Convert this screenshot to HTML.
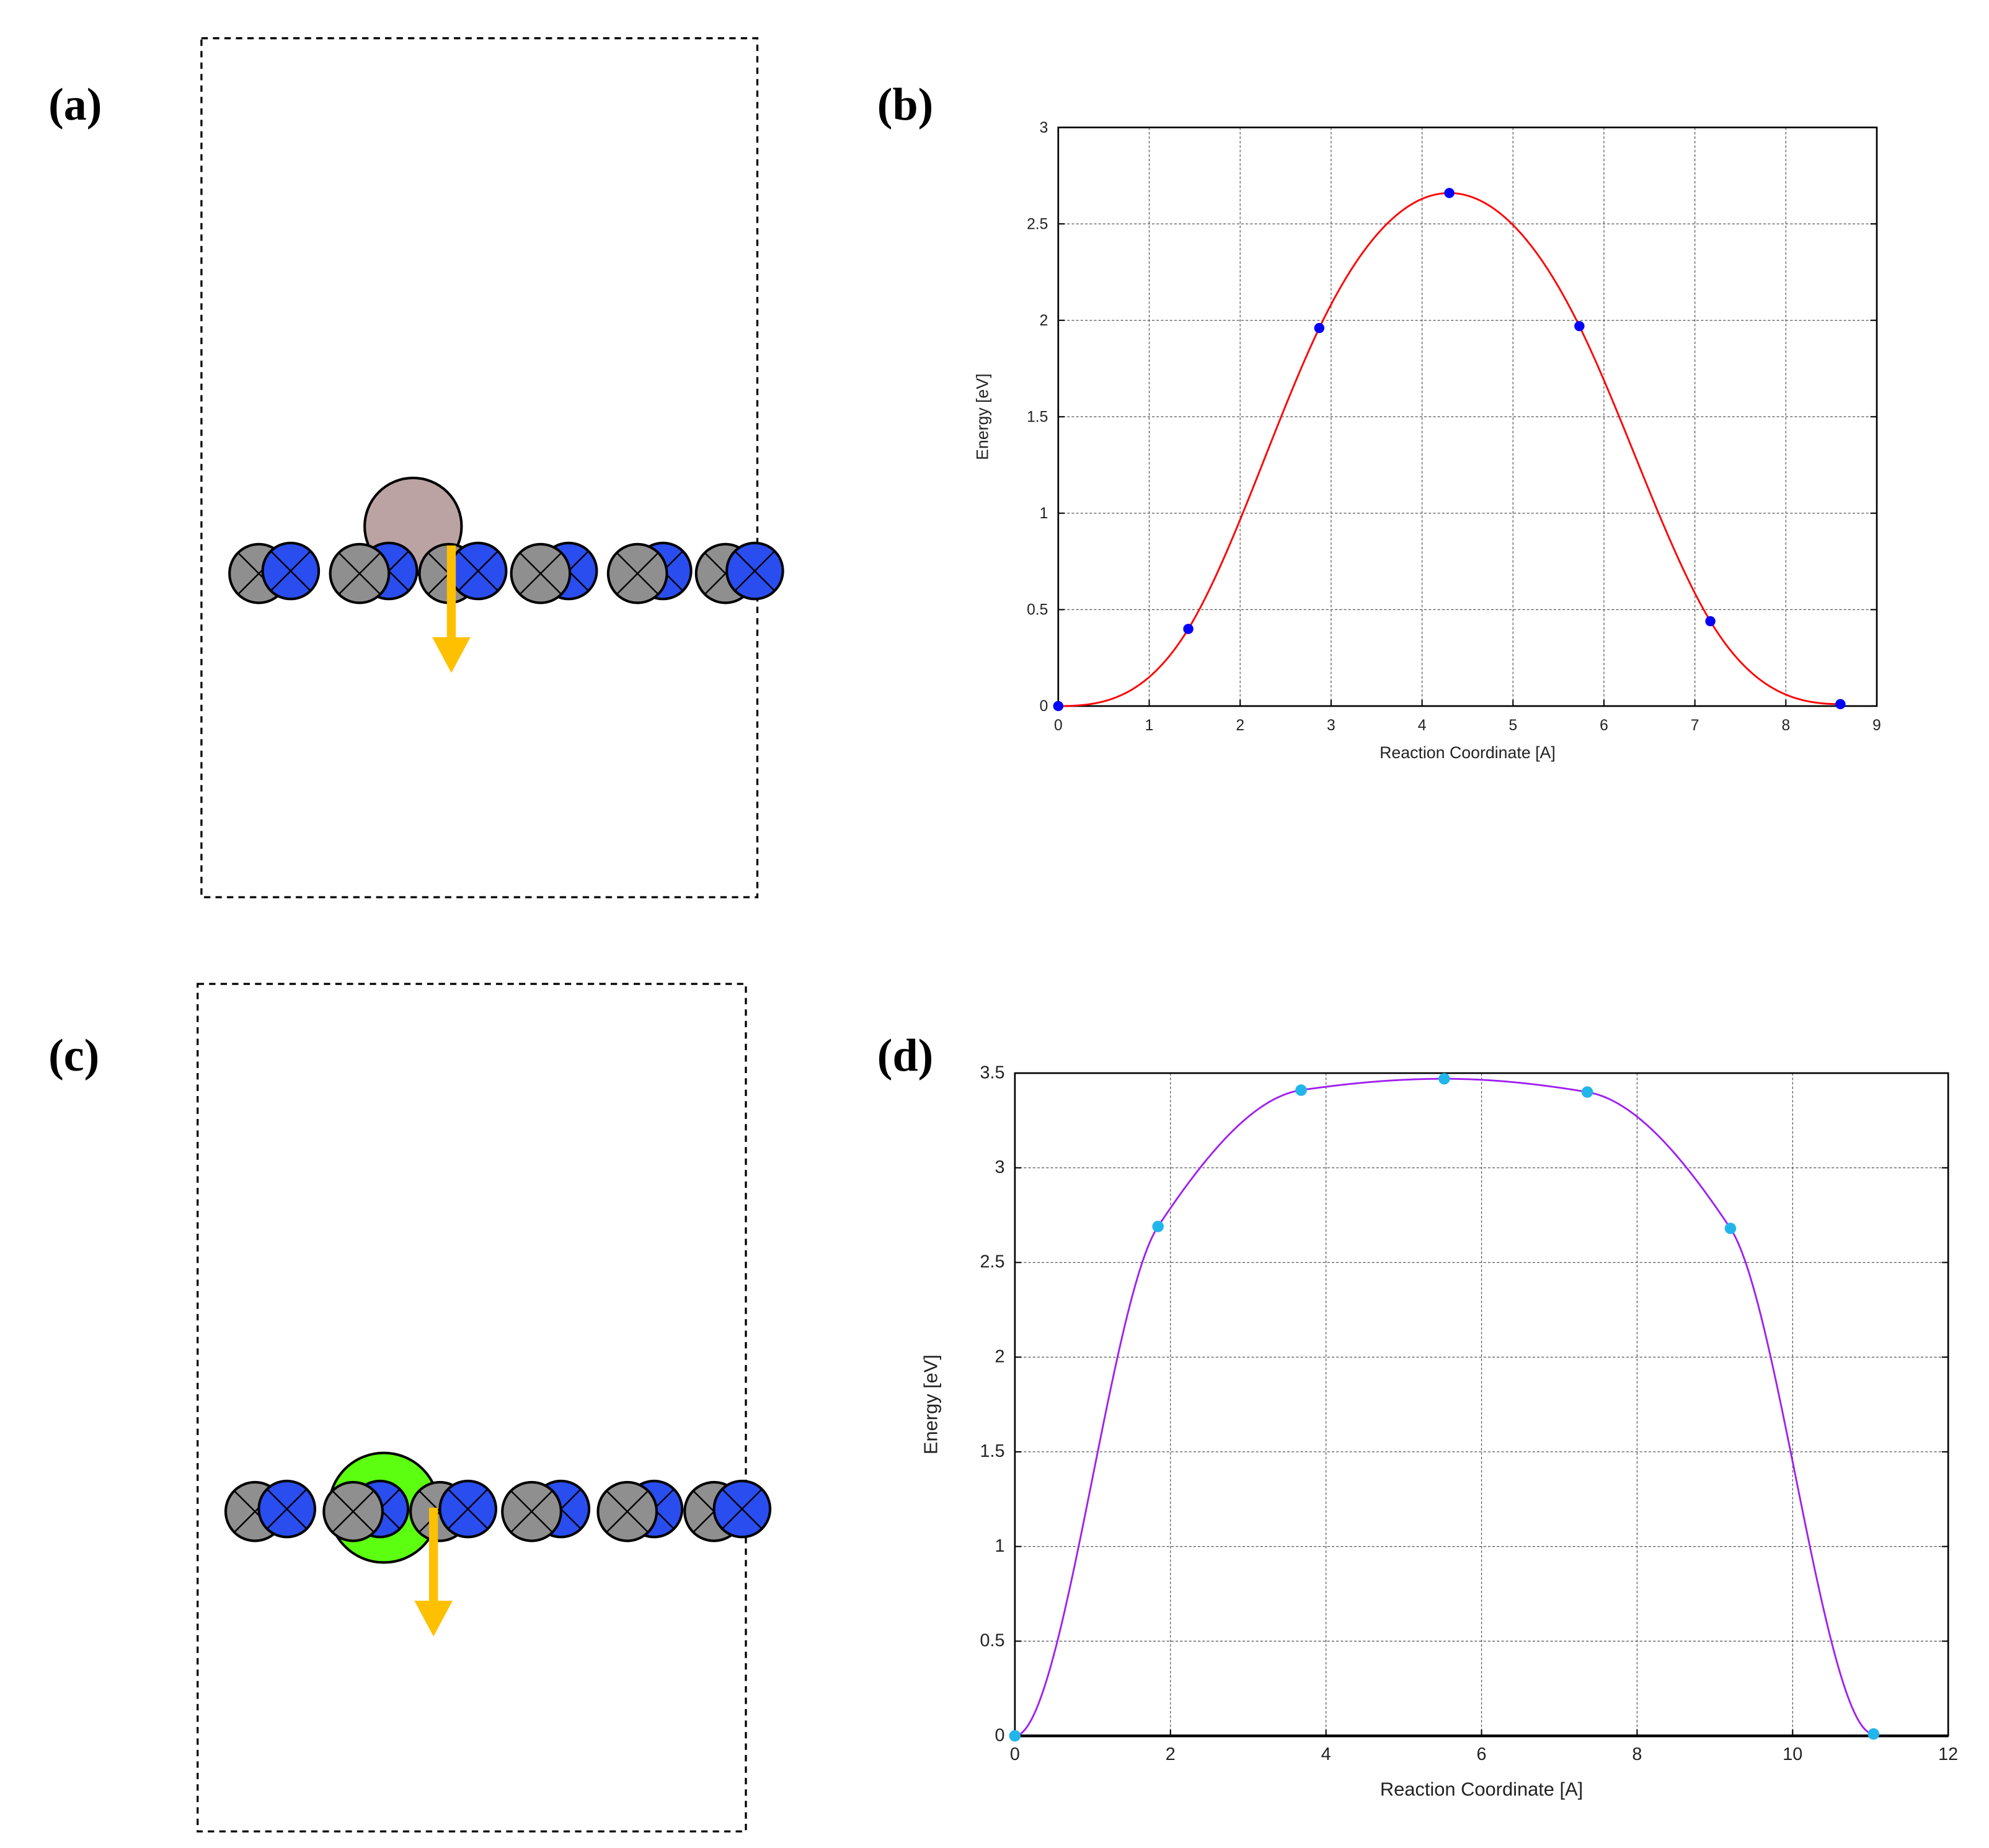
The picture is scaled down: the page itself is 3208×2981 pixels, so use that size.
<!DOCTYPE html>
<html><head><meta charset="utf-8"><style>
html,body{margin:0;padding:0;background:#fff}
svg{display:block}
text{font-family:"Liberation Sans",sans-serif}
.lbl{font-family:"Liberation Serif",serif;font-weight:bold;font-size:36px}
</style></head><body>
<svg id="fig" width="3208" height="2981" viewBox="0 0 1560 1450" preserveAspectRatio="none" xmlns="http://www.w3.org/2000/svg">
<rect width="1560" height="1450" fill="#fff"/>
<text class="lbl" x="38" y="94">(a)</text>
<text class="lbl" x="688" y="94">(b)</text>
<text class="lbl" x="38" y="840">(c)</text>
<text class="lbl" x="688" y="840">(d)</text>
<g id="panelA"></g>
<g id="panelC"></g>
<g id="chartB"></g>
<g id="chartD"></g>
</svg>
<script>
// ---- Chart data ----
const bX = [0, 1.43, 2.87, 4.3, 5.73, 7.17, 8.6];
const bY = [0, 0.40, 1.96, 2.66, 1.97, 0.44, 0.01];
const bXTicks = ["0","1","2","3","4","5","6","7","8","9"];
const bYTicks = ["0","0.5","1","1.5","2","2.5","3"];
const dX = [0, 1.84, 3.68, 5.52, 7.36, 9.2, 11.04];
const dY = [0, 2.69, 3.41, 3.47, 3.40, 2.68, 0.01];
const dXTicks = ["0","2","4","6","8","10","12"];
const dYTicks = ["0","0.5","1","1.5","2","2.5","3","3.5"];

const NS = "http://www.w3.org/2000/svg";
function mk(tag, attrs, parent){const e=document.createElementNS(NS,tag);for(const k in attrs)e.setAttribute(k,attrs[k]);parent.appendChild(e);return e;}

function spline(xs, ys, clamped){
  const n=xs.length; const h=[]; for(let i=0;i<n-1;i++)h.push(xs[i+1]-xs[i]);
  const A=[],B=[],C=[],D=[];
  for(let i=0;i<n;i++){A.push(0);B.push(0);C.push(0);D.push(0);}
  if(clamped){B[0]=2*h[0];C[0]=h[0];D[0]=6*((ys[1]-ys[0])/h[0]);
    B[n-1]=2*h[n-2];A[n-1]=h[n-2];D[n-1]=6*(0-(ys[n-1]-ys[n-2])/h[n-2]);}
  else{B[0]=1;B[n-1]=1;}
  for(let i=1;i<n-1;i++){A[i]=h[i-1];B[i]=2*(h[i-1]+h[i]);C[i]=h[i];D[i]=6*((ys[i+1]-ys[i])/h[i]-(ys[i]-ys[i-1])/h[i-1]);}
  for(let i=1;i<n;i++){const m=A[i]/B[i-1];B[i]-=m*C[i-1];D[i]-=m*D[i-1];}
  const M=new Array(n);M[n-1]=D[n-1]/B[n-1];
  for(let i=n-2;i>=0;i--)M[i]=(D[i]-C[i]*M[i+1])/B[i];
  return function(x){let i=0;while(i<n-2&&x>xs[i+1])i++;
    const t1=xs[i+1]-x,t0=x-xs[i],hh=h[i];
    return M[i]*t1*t1*t1/(6*hh)+M[i+1]*t0*t0*t0/(6*hh)+(ys[i]/hh-M[i]*hh/6)*t1+(ys[i+1]/hh-M[i+1]*hh/6)*t0;};
}
function pchip(xs, ys){
  const n=xs.length,h=[],dl=[];
  for(let i=0;i<n-1;i++){h.push(xs[i+1]-xs[i]);dl.push((ys[i+1]-ys[i])/h[i]);}
  const m=new Array(n).fill(0);
  for(let i=1;i<n-1;i++){
    if(dl[i-1]*dl[i]>0){const w1=2*h[i]+h[i-1],w2=h[i]+2*h[i-1];m[i]=(w1+w2)/(w1/dl[i-1]+w2/dl[i]);}
  }
  return function(x){let i=0;while(i<n-2&&x>xs[i+1])i++;
    const t=(x-xs[i])/h[i],t2=t*t,t3=t2*t;
    return (2*t3-3*t2+1)*ys[i]+(t3-2*t2+t)*h[i]*m[i]+(-2*t3+3*t2)*ys[i+1]+(t3-t2)*h[i]*m[i+1];};
}

function chart(g, cfg){
  const sx=v=>cfg.x0+(v-cfg.xmin)/(cfg.xmax-cfg.xmin)*(cfg.x1-cfg.x0);
  const sy=v=>cfg.y0-(v-cfg.ymin)/(cfg.ymax-cfg.ymin)*(cfg.y0-cfg.y1);
  cfg.xt.forEach(t=>{const x=sx(parseFloat(t));
    if(x>cfg.x0+1&&x<cfg.x1-1){const l=mk('line',{x1:x,x2:x,y1:cfg.y1,y2:cfg.y0,stroke:'#555','stroke-width':0.6,'stroke-dasharray':'2,1.5'},g);
      
      }
    mk('line',{x1:x,x2:x,y1:cfg.y0,y2:cfg.y0-5,stroke:'#000','stroke-width':1},g);
    const tx=mk('text',{x:x,y:cfg.y0+19,'font-size':cfg.fs,'text-anchor':'middle',fill:'#222'},g);tx.textContent=t;
    
    });
  cfg.yt.forEach(t=>{const y=sy(parseFloat(t));
    if(y>cfg.y1+1&&y<cfg.y0-1){const l=mk('line',{x1:cfg.x0,x2:cfg.x1,y1:y,y2:y,stroke:'#555','stroke-width':0.6,'stroke-dasharray':'2,1.5'},g);
      
      }
    mk('line',{x1:cfg.x0,x2:cfg.x0+5,y1:y,y2:y,stroke:'#000','stroke-width':1},g);
    mk('line',{x1:cfg.x1,x2:cfg.x1-5,y1:y,y2:y,stroke:'#000','stroke-width':1},g);
    const tx=mk('text',{x:cfg.x0-8,y:y+4,'font-size':cfg.fs,'text-anchor':'end',fill:'#222'},g);tx.textContent=t;
    
    });
  const fr=mk('rect',{x:cfg.x0,y:cfg.y1,width:cfg.x1-cfg.x0,height:cfg.y0-cfg.y1,fill:'none',stroke:'#000','stroke-width':1.3},g);
  
  
  if(cfg.thickBase){mk('line',{x1:cfg.x0,x2:cfg.x1,y1:cfg.y0,y2:cfg.y0,stroke:'#000','stroke-width':2.2},g);}
  const f=cfg.mono?pchip(cfg.xs,cfg.ys):spline(cfg.xs,cfg.ys,true);
  let d='';const a=cfg.xs[0],b=cfg.xs[cfg.xs.length-1];
  for(let i=0;i<=400;i++){const x=a+(b-a)*i/400;d+=(i?'L':'M')+sx(x).toFixed(2)+','+sy(f(x)).toFixed(2);}
  const p=mk('path',{d:d,fill:'none',stroke:cfg.lc,'stroke-width':1.4},g);
  
  
  cfg.xs.forEach((x,i)=>{const c=mk('circle',{cx:sx(x),cy:sy(cfg.ys[i]),r:cfg.pr,fill:cfg.pc},g);
    
    });
  const xl=mk('text',{x:(cfg.x0+cfg.x1)/2,y:cfg.y0+cfg.xlo,'font-size':cfg.fs+1,'text-anchor':'middle',fill:'#222'},g);xl.textContent='Reaction Coordinate [A]';
  
  
  const yx=cfg.ylx,yy=(cfg.y0+cfg.y1)/2;
  const yl=mk('text',{x:yx,y:yy,'font-size':cfg.fs+1,'text-anchor':'middle',fill:'#222',transform:`rotate(-90 ${yx} ${yy})`},g);yl.textContent='Energy [eV]';
  
  
}
chart(document.getElementById('chartB'),{x0:830,x1:1472,y0:554,y1:100,xmin:0,xmax:9,ymin:0,ymax:3,xt:bXTicks,yt:bYTicks,xs:bX,ys:bY,mono:false,lc:'#f00',pc:'#00f',pr:4,fs:12,xlo:41,ylx:775});
chart(document.getElementById('chartD'),{x0:796,x1:1528,y0:1362,y1:842,xmin:0,xmax:12,ymin:0,ymax:3.5,xt:dXTicks,yt:dYTicks,xs:dX,ys:dY,mono:true,lc:'#a020f0',pc:'#22b5ea',pr:4.5,fs:14,xlo:47,ylx:735,thickBase:true});

// ---- Structure panels ----
function atom(g,cx,cy,r,fill){
  mk('circle',{cx:cx,cy:cy,r:r,fill:fill,stroke:'#000','stroke-width':2},g);
  const k=r*0.707;
  mk('path',{d:`M${cx-k},${cy-k}L${cx+k},${cy+k}M${cx+k},${cy-k}L${cx-k},${cy+k}`,stroke:'#000','stroke-width':1.2},g);
}
function panel(g,box,row,big,arrow){
  const bx=mk('rect',{x:box[0],y:box[1],width:box[2],height:box[3],fill:'none',stroke:'#000','stroke-width':1.6,'stroke-dasharray':'5,4'},g);
  
  
  const bc=mk('circle',{cx:big[0],cy:big[1],r:big[2],fill:big[3],stroke:'#000','stroke-width':2},g);
  
  
  row.forEach(p=>{const ag=mk('g',{},g);
    
    
    if(p[2]){atom(ag,p[1],p[3],22,'#2a4df0');atom(ag,p[0],p[3]+2,23,'#8f8f8f');}
    else{atom(ag,p[0],p[3]+2,23,'#8f8f8f');atom(ag,p[1],p[3],22,'#2a4df0');}});
  const ar=mk('g',{},g);
  
  
  mk('rect',{x:arrow[0]-3.5,y:arrow[1],width:7,height:arrow[2]-arrow[1],fill:'#ffc000'},ar);
  mk('polygon',{points:`${arrow[0]-15},${arrow[2]} ${arrow[0]+15},${arrow[2]} ${arrow[0]},${arrow[3]}`,fill:'#ffc000'},ar);
}
panel(document.getElementById('panelA'),[158,30,436,674],
  [[203,228,0,448],[282,305,1,448],[352,375,0,448],[424,446,1,448],[500,520,1,448],[569,592,0,448]],
  [324,413,38,'#bca3a3'],[354,428,500,528]);
panel(document.getElementById('panelC'),[155,772,430,665],
  [[200,225,0,1184],[277,298,1,1184],[345,367,0,1184],[417,440,1,1184],[492,513,1,1184],[560,582,0,1184]],
  [301,1183,43,'#5cff10'],[340,1183,1256,1284]);
</script>
</body></html>
